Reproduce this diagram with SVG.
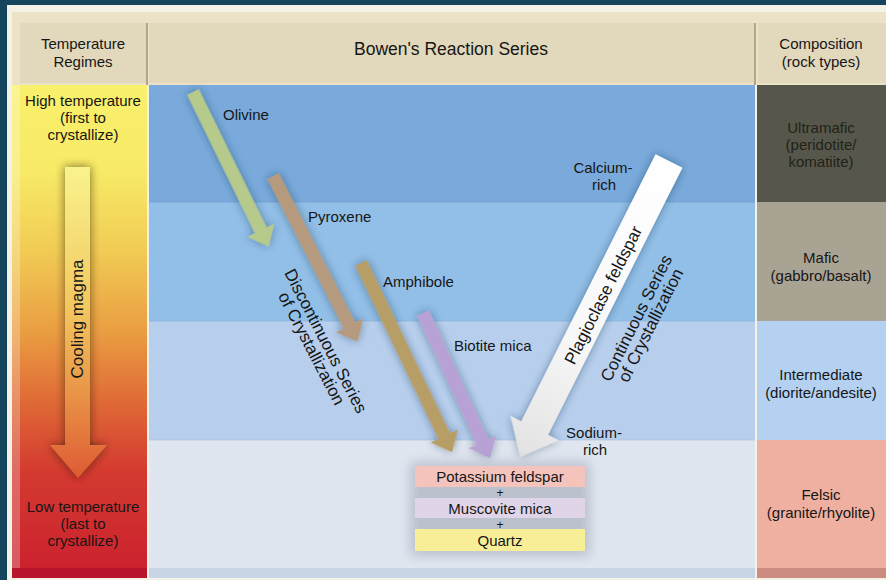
<svg xmlns="http://www.w3.org/2000/svg" width="886" height="580" viewBox="0 0 886 580">
<defs>
<style>
text{font-family:"Liberation Sans",Arial,sans-serif;fill:#161616;}
.t15{font-size:15px;}
.t17{font-size:17px;}
.c{text-anchor:middle;}
</style>
<linearGradient id="tempGrad" x1="0" y1="85" x2="0" y2="568" gradientUnits="userSpaceOnUse">
<stop offset="0" stop-color="#f9f06c"/>
<stop offset="0.18" stop-color="#f7ea66"/>
<stop offset="0.34" stop-color="#f1cc55"/>
<stop offset="0.51" stop-color="#ea9e42"/>
<stop offset="0.65" stop-color="#e06c36"/>
<stop offset="0.8" stop-color="#d43a30"/>
<stop offset="1" stop-color="#cc222e"/>
</linearGradient>
<linearGradient id="coolGrad" x1="0" y1="165" x2="0" y2="478" gradientUnits="userSpaceOnUse">
<stop offset="0" stop-color="#f9f48e"/>
<stop offset="0.45" stop-color="#f2c860"/>
<stop offset="0.75" stop-color="#e89046"/>
<stop offset="1" stop-color="#de5a34"/>
</linearGradient>
<linearGradient id="whiteGrad" x1="0" y1="0" x2="331" y2="0" gradientUnits="userSpaceOnUse">
<stop offset="0" stop-color="#ffffff"/>
<stop offset="0.6" stop-color="#f8f8f8"/>
<stop offset="1" stop-color="#e2e2e2"/>
</linearGradient>
<filter id="sh" x="-40%" y="-40%" width="180%" height="180%">
<feDropShadow dx="0" dy="0" stdDeviation="4" flood-color="#1a2e4a" flood-opacity="0.45"/>
</filter>
<filter id="shDark" x="-60%" y="-20%" width="220%" height="140%">
<feDropShadow dx="0" dy="0" stdDeviation="5" flood-color="#2a1a00" flood-opacity="0.65"/>
</filter>
<filter id="blur6" x="-20%" y="-20%" width="140%" height="140%">
<feGaussianBlur stdDeviation="6"/>
</filter>
</defs>

<!-- background frame -->
<rect x="0" y="0" width="886" height="580" fill="#15445d"/>
<rect x="7" y="5" width="879" height="575" fill="#f4f1e6"/>
<rect x="12" y="12" width="874" height="73" fill="#ebe2c7"/>

<!-- header -->
<g id="header-temp">
<rect x="20" y="23" width="127" height="60" fill="#e2d8bb"/>
<rect x="146" y="23" width="2" height="62" fill="#b3a684"/>
<text class="t15 c" x="83" y="49">Temperature</text>
<text class="t15 c" x="83" y="67">Regimes</text>
</g>
<g id="header-series">
<rect x="149" y="23" width="606" height="60" fill="#e2d8bb"/>
<rect x="754" y="23" width="2" height="62" fill="#b3a684"/>
<text class="c" x="451" y="55" style="font-size:17.5px">Bowen's Reaction Series</text>
</g>
<g id="header-comp">
<rect x="758" y="23" width="128" height="60" fill="#e2d8bb"/>
<text class="t15 c" x="821" y="49">Composition</text>
<text class="t15 c" x="821" y="67">(rock types)</text>
</g>

<!-- left temperature column -->
<g id="temperature-column">
<rect x="12" y="85" width="135" height="493" fill="url(#tempGrad)"/>
<rect x="12" y="85" width="8" height="483" fill="#ffffff" opacity="0.25"/>
<rect x="12" y="568" width="135" height="10" fill="#b8142a"/>
<text class="t15 c" x="83" y="106">High temperature</text>
<text class="t15 c" x="83" y="123">(first to</text>
<text class="t15 c" x="83" y="140">crystallize)</text>
<text class="t15 c" x="83" y="512">Low temperature</text>
<text class="t15 c" x="83" y="529">(last to</text>
<text class="t15 c" x="83" y="546">crystallize)</text>
</g>
<g id="cooling-arrow">
<polygon points="65,167 90,167 90,445 107,445 78,478 50,445 65,445" fill="url(#coolGrad)" filter="url(#shDark)"/>
<text class="t17 c" transform="translate(77,319) rotate(-90)" x="0" y="6">Cooling magma</text>
</g>

<!-- middle bands -->
<g id="bands">
<rect x="149" y="85" width="606" height="117" fill="#79aadb"/>
<rect x="149" y="202" width="606" height="119" fill="#92bfe7"/>
<rect x="149" y="321" width="606" height="119" fill="#b7cfed"/>
<rect x="149" y="440" width="606" height="128" fill="#e0e6ef"/>
<rect x="149" y="568" width="606" height="10" fill="#c6d4e4"/>
<rect x="149" y="201.5" width="606" height="1" fill="#6d9ccb" opacity="0.6"/>
<rect x="149" y="320.5" width="606" height="1" fill="#86b2dc" opacity="0.6"/>
<rect x="149" y="439.5" width="606" height="1" fill="#a9c2e0" opacity="0.6"/>
</g>

<!-- right composition column -->
<g id="comp-ultramafic">
<rect x="757" y="85" width="129" height="117" fill="#56574a"/>
<text class="t15 c" x="821" y="133" style="fill:#222219">Ultramafic</text>
<text class="t15 c" x="821" y="150" style="fill:#222219">(peridotite/</text>
<text class="t15 c" x="821" y="167" style="fill:#222219">komatiite)</text>
</g>
<g id="comp-mafic">
<rect x="757" y="202" width="129" height="119" fill="#a9a394"/>
<text class="t15 c" x="821" y="263">Mafic</text>
<text class="t15 c" x="821" y="281">(gabbro/basalt)</text>
</g>
<g id="comp-intermediate">
<rect x="757" y="321" width="129" height="119" fill="#b4d1f1"/>
<text class="t15 c" x="821" y="380">Intermediate</text>
<text class="t15 c" x="821" y="398">(diorite/andesite)</text>
</g>
<g id="comp-felsic">
<rect x="757" y="440" width="129" height="128" fill="#efb0a1"/>
<rect x="757" y="568" width="129" height="10" fill="#cc8c80"/>
<text class="t15 c" x="821" y="500">Felsic</text>
<text class="t15 c" x="821" y="518">(granite/rhyolite)</text>
</g>

<!-- connectors: mineral arrows -->
<g id="connectors">
<polygon id="arrow-olivine" transform="translate(193,92) rotate(63.9)" points="0,-6.5 154,-6.5 154,-15 172,0 154,15 154,6.5 0,6.5" fill="#b6ca8c" filter="url(#sh)"/>
<polygon id="arrow-pyroxene" transform="translate(273,176) rotate(62.9)" points="0,-6.5 168,-6.5 168,-15 186,0 168,15 168,6.5 0,6.5" fill="#b59a7e" filter="url(#sh)"/>
<polygon id="arrow-amphibole" transform="translate(361,263) rotate(64.3)" points="0,-6.5 192,-6.5 192,-15 210,0 192,15 192,6.5 0,6.5" fill="#b79e66" filter="url(#sh)"/>
<polygon id="arrow-biotite" transform="translate(423,313) rotate(65.2)" points="0,-6.5 142,-6.5 142,-15 160,0 142,15 142,6.5 0,6.5" fill="#b7a1d5" filter="url(#sh)"/>
<polygon id="arrow-plagioclase" transform="translate(669,161) rotate(116.7)" points="0,-15 299,-15 299,-27 331,0 299,27 299,15 0,15" fill="url(#whiteGrad)" filter="url(#sh)"/>
</g>

<!-- labels -->
<g id="labels">
<text class="t15" x="223" y="120">Olivine</text>
<text class="t15" x="308" y="222">Pyroxene</text>
<text class="t15" x="383" y="287">Amphibole</text>
<text class="t15" x="454" y="351">Biotite mica</text>
<text class="t15 c" x="603" y="173">Calcium-</text>
<text class="t15 c" x="604" y="190">rich</text>
<text class="t15 c" x="594" y="438">Sodium-</text>
<text class="t15 c" x="595" y="455">rich</text>
<text class="t17 c" transform="translate(603,295) rotate(-63.3)" x="0" y="6">Plagioclase feldspar</text>
<g transform="translate(636,318) rotate(-63.3)">
<text class="t17 c" x="0" y="6">Continuous Series</text>
<text class="t17 c" x="0" y="22">of Crystallization</text>
</g>
<g transform="translate(326,341) rotate(62.6)">
<text class="t17 c" x="0" y="6">Discontinuous Series</text>
<text class="t17 c" x="0" y="22">of Crystallization</text>
</g>
</g>

<!-- final products -->
<g id="final-products">
<rect x="410" y="462" width="180" height="94" fill="#5a6478" opacity="0.28" filter="url(#blur6)"/>
<g id="potassium-feldspar">
<rect x="415" y="466" width="170" height="21" fill="#f4c4bc"/>
<text class="t15 c" x="500" y="482">Potassium feldspar</text>
</g>
<text class="c" x="500" y="497" style="font-size:12px">+</text>
<g id="muscovite-mica">
<rect x="415" y="498" width="170" height="20" fill="#e0d4e8"/>
<text class="t15 c" x="500" y="514">Muscovite mica</text>
</g>
<text class="c" x="500" y="529" style="font-size:12px">+</text>
<g id="quartz">
<rect x="415" y="529" width="170" height="22" fill="#f8ee98"/>
<text class="t15 c" x="500" y="546">Quartz</text>
</g>
</g>
</svg>
